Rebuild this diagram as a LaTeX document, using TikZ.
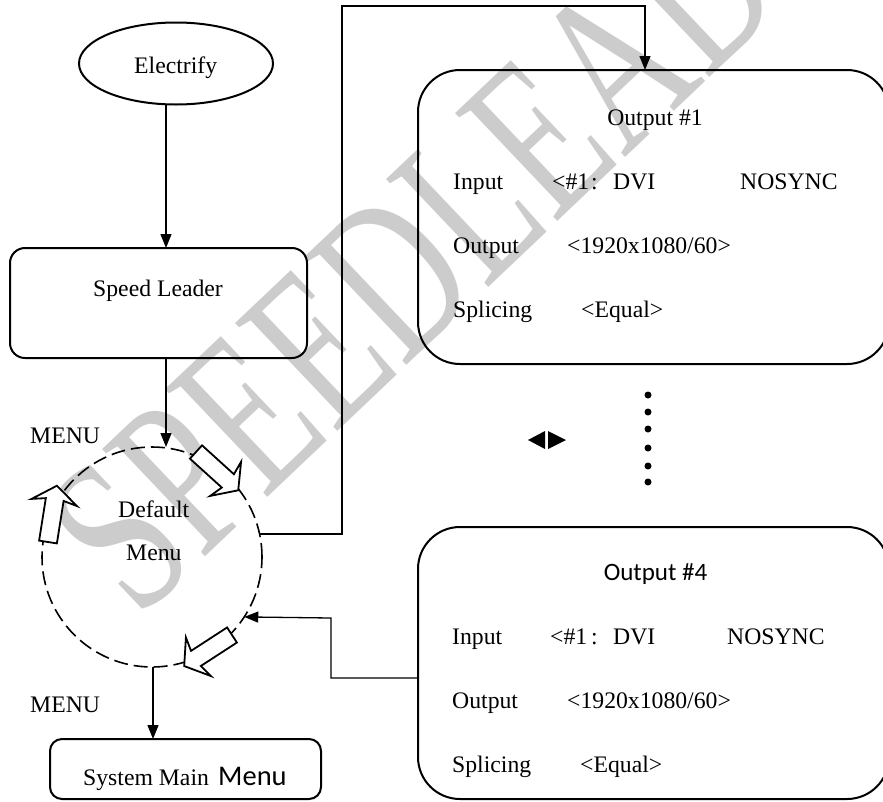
\documentclass[tikz,border=0pt]{standalone}
\usepackage{fontspec}
\setmainfont{Liberation Serif}
\newfontfamily\carl{Carlito}
\usetikzlibrary{shapes.geometric,arrows.meta}

% hollow block arrow: tail point, direction angle
\newcommand\hollowarrow[2]{%
  \begin{scope}[shift={#1}, rotate=#2]
    \filldraw[harrow] (0,-9) -- (43,-9) -- (40,-23) -- (57,0) -- (40,23) -- (43,9) -- (0,9) -- cycle;
  \end{scope}}

\tikzset{
  box/.style={draw, line width=2pt, inner sep=0pt, outer sep=0pt},
  arr/.style={line width=1.3pt, -{Triangle[length=14pt,width=11pt]}},
  link/.style={line width=1.3pt},
  harrow/.style={draw=black, fill=white, line width=1.8pt, line join=miter},
  txt/.style={inner sep=0pt, anchor=base west, font=\fontsize{23.7}{28}\selectfont},
  ctxt/.style={txt, anchor=base},
  watermark/.style={inner sep=0pt, text=black!20, font=\fontsize{227}{227}\selectfont},
}

\begin{document}
\begin{tikzpicture}[x=1pt, y=-1pt]
\useasboundingbox (0,0) rectangle (883,801);

% background watermark
\node[watermark, rotate=43.5, xscale=0.69] (wmtext) at (485,189) {SPEEDLEADER};

% menu cycle
\node[circle, draw, line width=1.6pt, dash pattern=on 14pt off 6pt,
      minimum size=220pt, inner sep=0pt, outer sep=0pt] (menu) at (152,557) {};
\hollowarrow{(196,452)}{-42.2}
\hollowarrow{(48,542)}{81}
\hollowarrow{(232,635)}{213}

% boxes
\node[ellipse, box, minimum width=194pt, minimum height=82pt] (elec) at (176,63.5) {};
\node[box, rounded corners=15pt, minimum width=297pt, minimum height=110pt] (speed) at (158.5,303) {};
\node[box, rounded corners=12pt, minimum width=271pt, minimum height=60pt] (smm) at (185.5,769) {};
\node[box, rounded corners=42pt, minimum width=471pt, minimum height=294pt] (out1) at (653.5,217) {};
\node[box, rounded corners=42pt, minimum width=471pt, minimum height=272pt] (out4) at (653.5,663) {};

% labels
\node[txt] (tElec) at (134,73) {Electrify};
\node[txt] (tSpeed) at (93,296) {Speed Leader};
\node[txt] (tMenuA) at (30,443) {MENU};
\node[txt] (tDef) at (118,517) {Default};
\node[txt] (tMenu) at (126,560) {Menu};
\node[txt] (tMenuB) at (30,712) {MENU};
\node[txt] (tSys) at (83,785) {System Main};
\node[txt, font=\carl\fontsize{28.5}{32}\selectfont] (tSysM) at (218,785) {Menu};

% Output #1 panel
\node[ctxt] (o1T) at (655,125) {Output \#1};
\node[txt] (o1a) at (453,189) {Input};
\node[txt] (o1b) at (552,189) {<\#1};
\node[txt] (o1c) at (591,189) {:};
\node[txt] (o1d) at (613,189) {DVI};
\node[txt] (o1e) at (740,189) {NOSYNC};
\node[txt] (o1f) at (453,253) {Output};
\node[txt] (o1g) at (567,253) {<1920x1080/60>};
\node[txt] (o1h) at (453,317) {Splicing};
\node[txt] (o1i) at (581,317) {<Equal>};

% Output #4 panel
\node[ctxt, font=\carl\fontsize{25}{30}\selectfont] (o4T) at (655.5,580) {Output \#4};
\node[txt] (o4a) at (452,644) {Input};
\node[txt] (o4b) at (550,644) {<\#1};
\node[txt] (o4c) at (591,644) {:};
\node[txt] (o4d) at (613,644) {DVI};
\node[txt] (o4e) at (727,644) {NOSYNC};
\node[txt] (o4f) at (452,708) {Output};
\node[txt] (o4g) at (567,708) {<1920x1080/60>};
\node[txt] (o4h) at (452,772) {Splicing};
\node[txt] (o4i) at (580,772) {<Equal>};

% vertical ellipsis between panels
\foreach \yy in {395,412,429,448,466,482} \fill (648,\yy) circle (3.5pt);

% left/right selector marks
\fill (528,440) -- (545,431) -- (545,449) -- cycle;
\fill (566,440) -- (548,431) -- (548,449) -- cycle;

% connectors
\coordinate (colA) at (166,0);
\coordinate (colB) at (153,0);
\coordinate (bendA) at (342,6);
\coordinate (dropA) at (645,0);
\coordinate (lvlB) at (0,678);
\coordinate (bendB) at (331,618);

\draw[arr] (elec.south -| colA) -- (speed.north -| colA);
\draw[arr] (speed.south -| colA) -- (menu.north -| colA);
\draw[arr] (menu.south -| colB) -- (smm.north -| colB);
\draw[arr] (menu.12.6) -| (bendA) -| (out1.north -| dropA);
\draw[arr] (out4.west |- lvlB) -| (bendB) -- (menu.-33.7);
\end{tikzpicture}
\end{document}
